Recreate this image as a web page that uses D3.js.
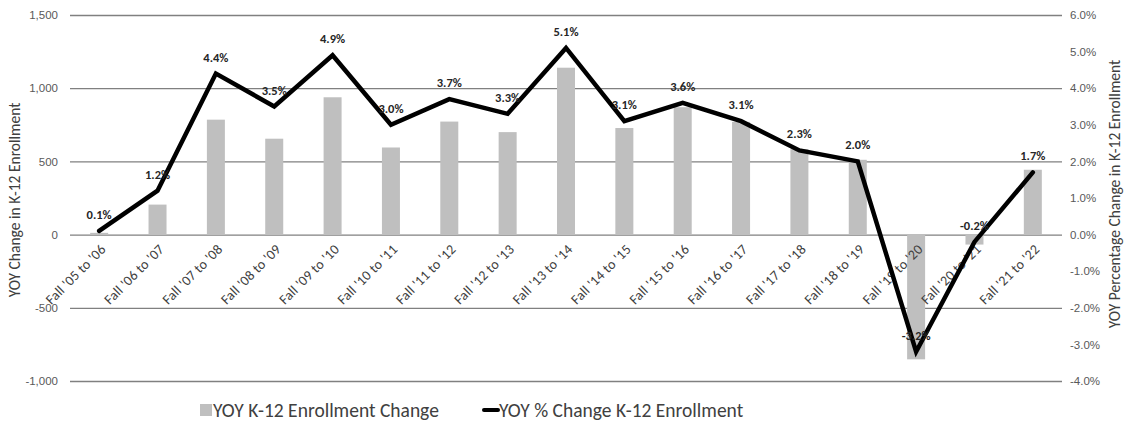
<!DOCTYPE html>
<html>
<head>
<meta charset="utf-8">
<script src="https://cdn.jsdelivr.net/npm/d3@7"></script>
<style>
  body { margin: 0; background: #fff; }
  svg { font-family: Carlito, Lato, "Open Sans", sans-serif; }
</style>
</head>
<body>
<svg></svg>
<script>
let categories = ["Fall '05 to '06", "Fall '06 to '07", "Fall '07 to '08", "Fall '08 to '09", "Fall '09 to '10",
  "Fall '10 to '11", "Fall '11 to '12", "Fall '12 to '13", "Fall '13 to '14", "Fall '14 to '15",
  "Fall '15 to '16", "Fall '16 to '17", "Fall '17 to '18", "Fall '18 to '19", "Fall '19 to '20",
  "Fall '20 to '21", "Fall '21 to '22"]
let enrollChange = [12, 205, 785, 655, 938, 595, 772, 700, 1140, 728, 870, 770, 584, 511, -852, -68, 443]
let pctChange = [0.1, 1.2, 4.4, 3.5, 4.9, 3.0, 3.7, 3.3, 5.1, 3.1, 3.6, 3.1, 2.3, 2.0, -3.2, -0.2, 1.7]
let leftTicks = [-1000, -500, 0, 500, 1000, 1500]
let rightTicks = [-4, -3, -2, -1, 0, 1, 2, 3, 4, 5, 6]

let width = 1124
let height = 430
let plotLeft = 70
let plotRight = 1062
let plotTop = 15
let plotBottom = 381

let svg = d3.select('svg')
  .attr('width', width)
  .attr('height', height)

let xScale = d3.scaleBand()
  .domain(categories)
  .range([plotLeft, plotRight])

let yScale = d3.scaleLinear()
  .domain([-1000, 1500])
  .range([plotBottom, plotTop])

let y2Scale = d3.scaleLinear()
  .domain([-4, 6])
  .range([plotBottom, plotTop])

let cx = (d) => xScale(d) + xScale.bandwidth() / 2

// gridlines + left axis
let yAxis = d3.axisLeft(yScale)
  .tickValues(leftTicks)
  .tickSize(-(plotRight - plotLeft))
  .tickPadding(12)
  .tickFormat((d) => d3.format(',')(d).replace('\u2212', '-'))

let gy = svg.append('g')
  .attr('transform', 'translate(' + plotLeft + ',0)')
  .call(yAxis)
gy.select('.domain').remove()
gy.selectAll('line').attr('stroke', '#808080').attr('stroke-width', 1.3)
gy.selectAll('text').attr('fill', '#595959').style('font-size', '11.5px')

// right axis
let y2Axis = d3.axisRight(y2Scale)
  .tickValues(rightTicks)
  .tickSize(0)
  .tickPadding(8)
  .tickFormat((d) => d.toFixed(1) + '%')

let gy2 = svg.append('g')
  .attr('transform', 'translate(' + plotRight + ',0)')
  .call(y2Axis)
gy2.select('.domain').remove()
gy2.selectAll('text').attr('fill', '#595959').style('font-size', '11.5px')

// bars
svg.selectAll('.bar')
  .data(enrollChange)
  .enter()
  .append('rect')
  .attr('class', 'bar')
  .attr('x', (d, i) => cx(categories[i]) - 9)
  .attr('width', 18)
  .attr('y', (d) => yScale(Math.max(0, d)))
  .attr('height', (d) => Math.abs(yScale(d) - yScale(0)))
  .attr('fill', '#bfbfbf')

// x labels
svg.selectAll('.xlab')
  .data(categories)
  .enter()
  .append('text')
  .attr('class', 'xlab')
  .attr('transform', (d) => 'translate(' + (cx(d) + 4) + ',' + (yScale(0) + 12) + ') rotate(-45)')
  .attr('text-anchor', 'end')
  .attr('dy', '0.35em')
  .style('font-size', '14px')
  .style('letter-spacing', '0.2px')
  .attr('fill', '#404040')
  .text((d) => d)

// line
let line = d3.line()
  .x((d, i) => cx(categories[i]))
  .y((d) => y2Scale(d))

svg.append('path')
  .datum(pctChange)
  .attr('d', line)
  .attr('fill', 'none')
  .attr('stroke', '#000')
  .attr('stroke-width', 4.5)
  .attr('stroke-linecap', 'round')

// value labels
svg.selectAll('.vlab')
  .data(pctChange)
  .enter()
  .append('text')
  .attr('class', 'vlab')
  .attr('x', (d, i) => cx(categories[i]))
  .attr('y', (d) => y2Scale(d) - 12)
  .attr('text-anchor', 'middle')
  .style('font-size', '12.5px')
  .style('font-weight', 'bold')
  .attr('fill', '#262626')
  .text((d) => d.toFixed(1) + '%')

// axis titles
svg.append('text')
  .attr('transform', 'translate(15,200) rotate(-90)')
  .attr('text-anchor', 'middle')
  .attr('dy', '0.35em')
  .style('font-size', '15.5px')
  .attr('fill', '#404040')
  .text('YOY Change in K-12 Enrollment')

svg.append('text')
  .attr('transform', 'translate(1115,194) rotate(-90)')
  .attr('text-anchor', 'middle')
  .attr('dy', '0.35em')
  .style('font-size', '15.5px')
  .attr('fill', '#404040')
  .text('YOY Percentage Change in K-12 Enrollment')

// legend
let legend = svg.append('g')
legend.append('rect')
  .attr('x', 200).attr('y', 404)
  .attr('width', 12).attr('height', 12)
  .attr('fill', '#bfbfbf')
legend.append('text')
  .attr('x', 213).attr('y', 410)
  .attr('dy', '0.35em')
  .style('font-size', '19.5px')
  .attr('fill', '#404040')
  .text('YOY K-12 Enrollment Change')
legend.append('line')
  .attr('x1', 484).attr('x2', 498)
  .attr('y1', 410).attr('y2', 410)
  .attr('stroke', '#000')
  .attr('stroke-width', 4)
  .attr('stroke-linecap', 'round')
legend.append('text')
  .attr('x', 499).attr('y', 410)
  .attr('dy', '0.35em')
  .style('font-size', '19.5px')
  .attr('fill', '#404040')
  .text('YOY % Change K-12 Enrollment')
</script>
</body>
</html>
